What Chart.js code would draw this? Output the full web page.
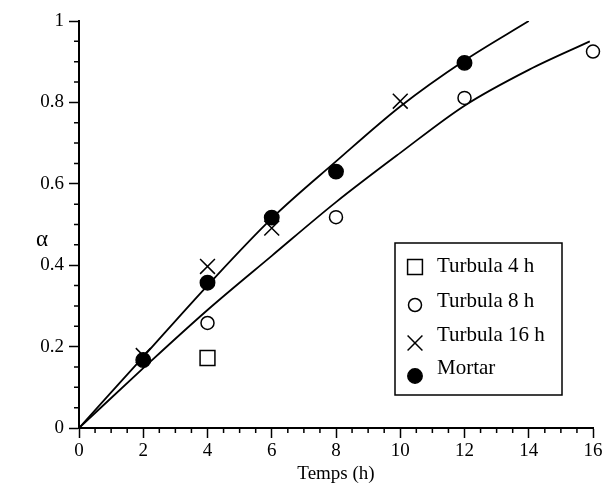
<!DOCTYPE html>
<html>
<head>
<meta charset="utf-8">
<style>
  html, body { margin: 0; background: #fff; }
</style>
<script src="https://cdn.jsdelivr.net/npm/chart.js@4.4.0/dist/chart.umd.min.js"></script>
</head>
<body>
<canvas id="alphaChart" width="607" height="487"></canvas>
<script>
// measured conversion alpha vs milling time
const turbula4Hours = [4];
const turbula4Alpha = [0.172];
const turbula8Hours = [4, 8, 12, 16];
const turbula8Alpha = [0.258, 0.518, 0.811, 0.925];
const turbula16Hours = [2, 4, 6, 10];
const turbula16Alpha = [0.178, 0.397, 0.491, 0.803];
const mortarHours = [2, 4, 6, 8, 12];
const mortarAlpha = [0.167, 0.357, 0.517, 0.630, 0.897];

// fitted curves
const fitUpperHours = [0, 2, 4, 6, 8, 10, 12, 14];
const fitUpperAlpha = [0, 0.175, 0.35, 0.515, 0.655, 0.79, 0.903, 1.0];
const fitLowerHours = [0, 2, 4, 6, 8, 10, 12, 14, 15.9];
const fitLowerAlpha = [0, 0.147, 0.29, 0.423, 0.555, 0.676, 0.792, 0.88, 0.95];

const xTicks = [0, 2, 4, 6, 8, 10, 12, 14, 16];
const yTicks = [0, 0.2, 0.4, 0.6, 0.8, 1];

const serif = 'Liberation Serif, Times New Roman, serif';

function toPoints(xs, ys) {
  return xs.map((x, i) => ({ x: x, y: ys[i] }));
}

function markerSet(label, xs, ys, style, radius, fill) {
  return {
    label: label,
    data: toPoints(xs, ys),
    showLine: false,
    clip: false,
    pointStyle: style,
    pointRadius: radius,
    pointBackgroundColor: fill,
    pointBorderColor: '#000',
    pointBorderWidth: 1.5,
    inLegend: true
  };
}

function curveSet(xs, ys) {
  return {
    data: toPoints(xs, ys),
    showLine: true,
    borderColor: '#000',
    borderWidth: 1.8,
    pointRadius: 0,
    cubicInterpolationMode: 'monotone',
    inLegend: false
  };
}

// minor ticks, the alpha label and the boxed legend
const decorations = {
  id: 'decorations',
  afterDraw(chart) {
    const ctx = chart.ctx;
    const xs = chart.scales.x;
    const ys = chart.scales.y;
    const area = chart.chartArea;
    ctx.save();
    ctx.strokeStyle = '#000';
    ctx.lineWidth = 1.5;
    ctx.beginPath();
    for (let v = 0.5; v < 16; v += 0.5) {
      if (v % 2 === 0) continue;
      const px = xs.getPixelForValue(v);
      ctx.moveTo(px, area.bottom);
      ctx.lineTo(px, area.bottom + 5);
    }
    for (let i = 1; i < 20; i++) {
      if (i % 4 === 0) continue;
      const py = ys.getPixelForValue(i * 0.05);
      ctx.moveTo(area.left, py);
      ctx.lineTo(area.left - 5, py);
    }
    ctx.stroke();

    ctx.fillStyle = '#000';
    ctx.font = '23px ' + serif;
    ctx.textAlign = 'center';
    ctx.textBaseline = 'middle';
    ctx.fillText('\u03b1', 42, ys.getPixelForValue(0.462));

    // legend box
    const boxLeft = area.right - 198;
    const boxTop = area.bottom - 185;
    ctx.lineWidth = 1.5;
    ctx.strokeRect(boxLeft, boxTop, 167, 152);
    const markerY = [24, 62, 100, 133];
    const textY = [23, 58, 92, 125];
    ctx.font = '21px ' + serif;
    ctx.textAlign = 'left';
    let row = 0;
    chart.data.datasets.forEach(ds => {
      if (!ds.inLegend) return;
      const opts = {
        pointStyle: ds.pointStyle,
        radius: ds.pointRadius,
        rotation: 0,
        borderWidth: ds.pointBorderWidth
      };
      ctx.fillStyle = ds.pointBackgroundColor;
      ctx.strokeStyle = '#000';
      ctx.lineWidth = ds.pointBorderWidth;
      Chart.helpers.drawPoint(ctx, opts, boxLeft + 20, boxTop + markerY[row]);
      ctx.fillStyle = '#000';
      ctx.fillText(ds.label, boxLeft + 42, boxTop + textY[row]);
      row++;
    });
    ctx.restore();
  }
};

const tickFont = { family: serif, size: 19 };

new Chart(document.getElementById('alphaChart'), {
  type: 'scatter',
  data: {
    datasets: [
      markerSet('Turbula 4 h', turbula4Hours, turbula4Alpha, 'rect', 10.5, '#fff'),
      markerSet('Turbula 8 h', turbula8Hours, turbula8Alpha, 'circle', 6.5, '#fff'),
      markerSet('Turbula 16 h', turbula16Hours, turbula16Alpha, 'crossRot', 10.5, '#fff'),
      markerSet('Mortar', mortarHours, mortarAlpha, 'circle', 7.2, '#000'),
      curveSet(fitUpperHours, fitUpperAlpha),
      curveSet(fitLowerHours, fitLowerAlpha)
    ]
  },
  options: {
    responsive: false,
    animation: false,
    layout: { padding: { left: 0, right: 14, top: 21, bottom: 0 } },
    plugins: {
      legend: { display: false },
      tooltip: { enabled: false }
    },
    scales: {
      x: {
        type: 'linear',
        min: 0,
        max: 16,
        afterBuildTicks: s => { s.ticks = xTicks.map(v => ({ value: v })); },
        afterFit: s => { s.height = 59; },
        ticks: { color: '#000', font: tickFont, padding: 2, maxRotation: 0 },
        grid: { drawOnChartArea: false, tickLength: 10, tickColor: '#000', tickWidth: 1.5 },
        border: { color: '#000', width: 2 },
        title: {
          display: true,
          text: 'Temps (h)',
          color: '#000',
          font: { family: serif, size: 19 },
          padding: { top: 0, bottom: 2 }
        }
      },
      y: {
        min: 0,
        max: 1,
        afterBuildTicks: s => { s.ticks = yTicks.map(v => ({ value: v })); },
        afterFit: s => { s.width = 79; },
        ticks: {
          color: '#000',
          font: tickFont,
          padding: 5,
          callback: v => String(Math.round(v * 10) / 10)
        },
        grid: { drawOnChartArea: false, tickLength: 10, tickColor: '#000', tickWidth: 1.5 },
        border: { color: '#000', width: 2 }
      }
    }
  },
  plugins: [decorations]
});
</script>
</body>
</html>
